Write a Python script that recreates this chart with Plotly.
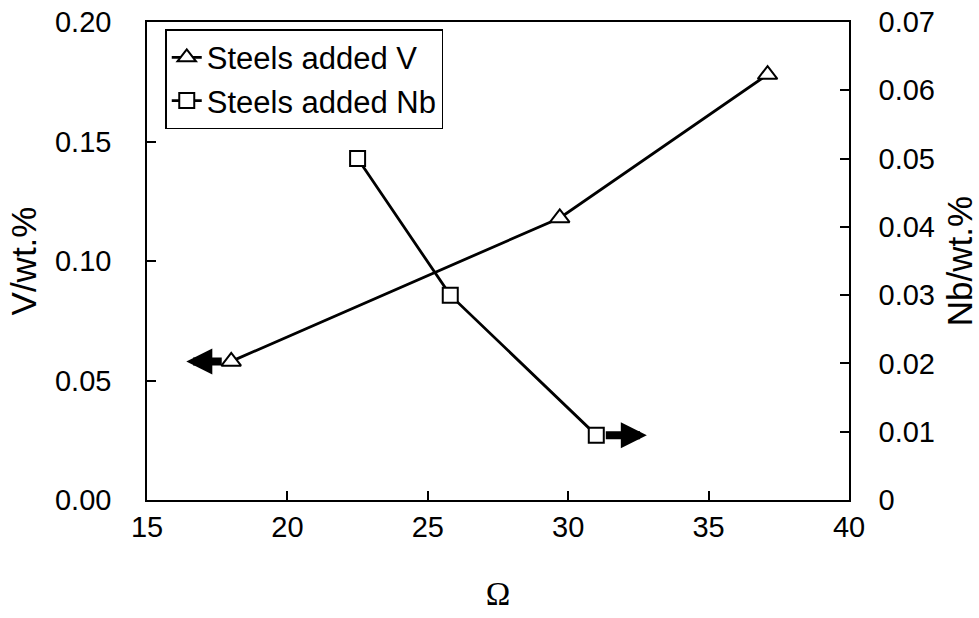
import plotly.graph_objects as go

# Data
omega_v = [18.0, 29.7, 37.1]
v_wt = [0.058, 0.118, 0.178]
omega_nb = [22.5, 25.8, 31.0]
nb_wt = [0.050, 0.030, 0.0095]
series_names = ["Steels added V", "Steels added Nb"]
v_arrow_tip = 16.4   # arrow indicating left axis
nb_arrow_tip = 32.8  # arrow indicating right axis

x_ticks = [15, 20, 25, 30, 35, 40]
y_ticks = [0.00, 0.05, 0.10, 0.15, 0.20]
y2_ticks = [0, 0.01, 0.02, 0.03, 0.04, 0.05, 0.06, 0.07]
y2_ticklabels = ["0", "0.01", "0.02", "0.03", "0.04", "0.05", "0.06", "0.07"]

FONT = "Arial, Liberation Sans, sans-serif"
FS = 29

fig = go.Figure()
fig.add_trace(go.Scatter(
    x=omega_v, y=v_wt, name=series_names[0], mode="lines+markers",
    line=dict(color="black", width=2.8),
    marker=dict(symbol="triangle-up", size=17, color="white",
                line=dict(color="black", width=2)),
    yaxis="y"))
fig.add_trace(go.Scatter(
    x=omega_nb, y=nb_wt, name=series_names[1], mode="lines+markers",
    line=dict(color="black", width=2.8),
    marker=dict(symbol="square", size=15, color="white",
                line=dict(color="black", width=2)),
    yaxis="y2"))

# axis-indicating arrows
fig.add_annotation(x=v_arrow_tip, y=v_wt[0], ax=omega_v[0], ay=v_wt[0],
                   xref="x", yref="y", axref="x", ayref="y",
                   showarrow=True, arrowhead=2, arrowsize=0.65, arrowwidth=8,
                   arrowcolor="black", startstandoff=8, standoff=0, text="")
fig.add_annotation(x=nb_arrow_tip, y=nb_wt[-1], ax=omega_nb[-1], ay=nb_wt[-1],
                   xref="x", yref="y2", axref="x", ayref="y2",
                   showarrow=True, arrowhead=2, arrowsize=0.65, arrowwidth=8,
                   arrowcolor="black", startstandoff=8, standoff=0, text="")

fig.update_layout(
    width=979, height=618,
    margin=dict(l=147, r=130, t=22, b=118, autoexpand=False),
    paper_bgcolor="white", plot_bgcolor="white",
    font=dict(family=FONT, size=FS, color="black"),
    showlegend=True,
    legend=dict(x=0.026, y=0.985, xanchor="left", yanchor="top",
                bgcolor="white", bordercolor="black", borderwidth=1.5,
                font=dict(family=FONT, size=31), tracegroupgap=0,
                itemwidth=30),
    xaxis=dict(range=[15, 40], tickvals=x_ticks, ticks="inside", ticklen=9,
               tickwidth=1.5, tickcolor="black", automargin=False,
               showline=True, linecolor="black", linewidth=1.5, mirror=True,
               showgrid=False, zeroline=False, ticklabelstandoff=0,
               title=dict(text="Ω", font=dict(family="Liberation Serif, Times New Roman, serif", size=33),
                          standoff=40)),
    yaxis=dict(range=[0, 0.20], tickvals=y_ticks, tickformat=".2f",
               ticks="inside", ticklen=9, tickwidth=1.5, tickcolor="black",
               automargin=False,
               showline=True, linecolor="black", linewidth=1.5,
               showgrid=False, zeroline=False, ticklabelstandoff=28,
               title=dict(text="V/wt.%", standoff=8)),
    yaxis2=dict(range=[0, 0.07], tickvals=y2_ticks, ticktext=y2_ticklabels,
                overlaying="y", side="right", automargin=False,
                ticks="inside", ticklen=9, tickwidth=1.5, tickcolor="black",
                showline=True, linecolor="black", linewidth=1.5,
                showgrid=False, zeroline=False, ticklabelstandoff=22,
                title=dict(text="Nb/wt.%", standoff=18)),
)

fig.write_html("out.html")
